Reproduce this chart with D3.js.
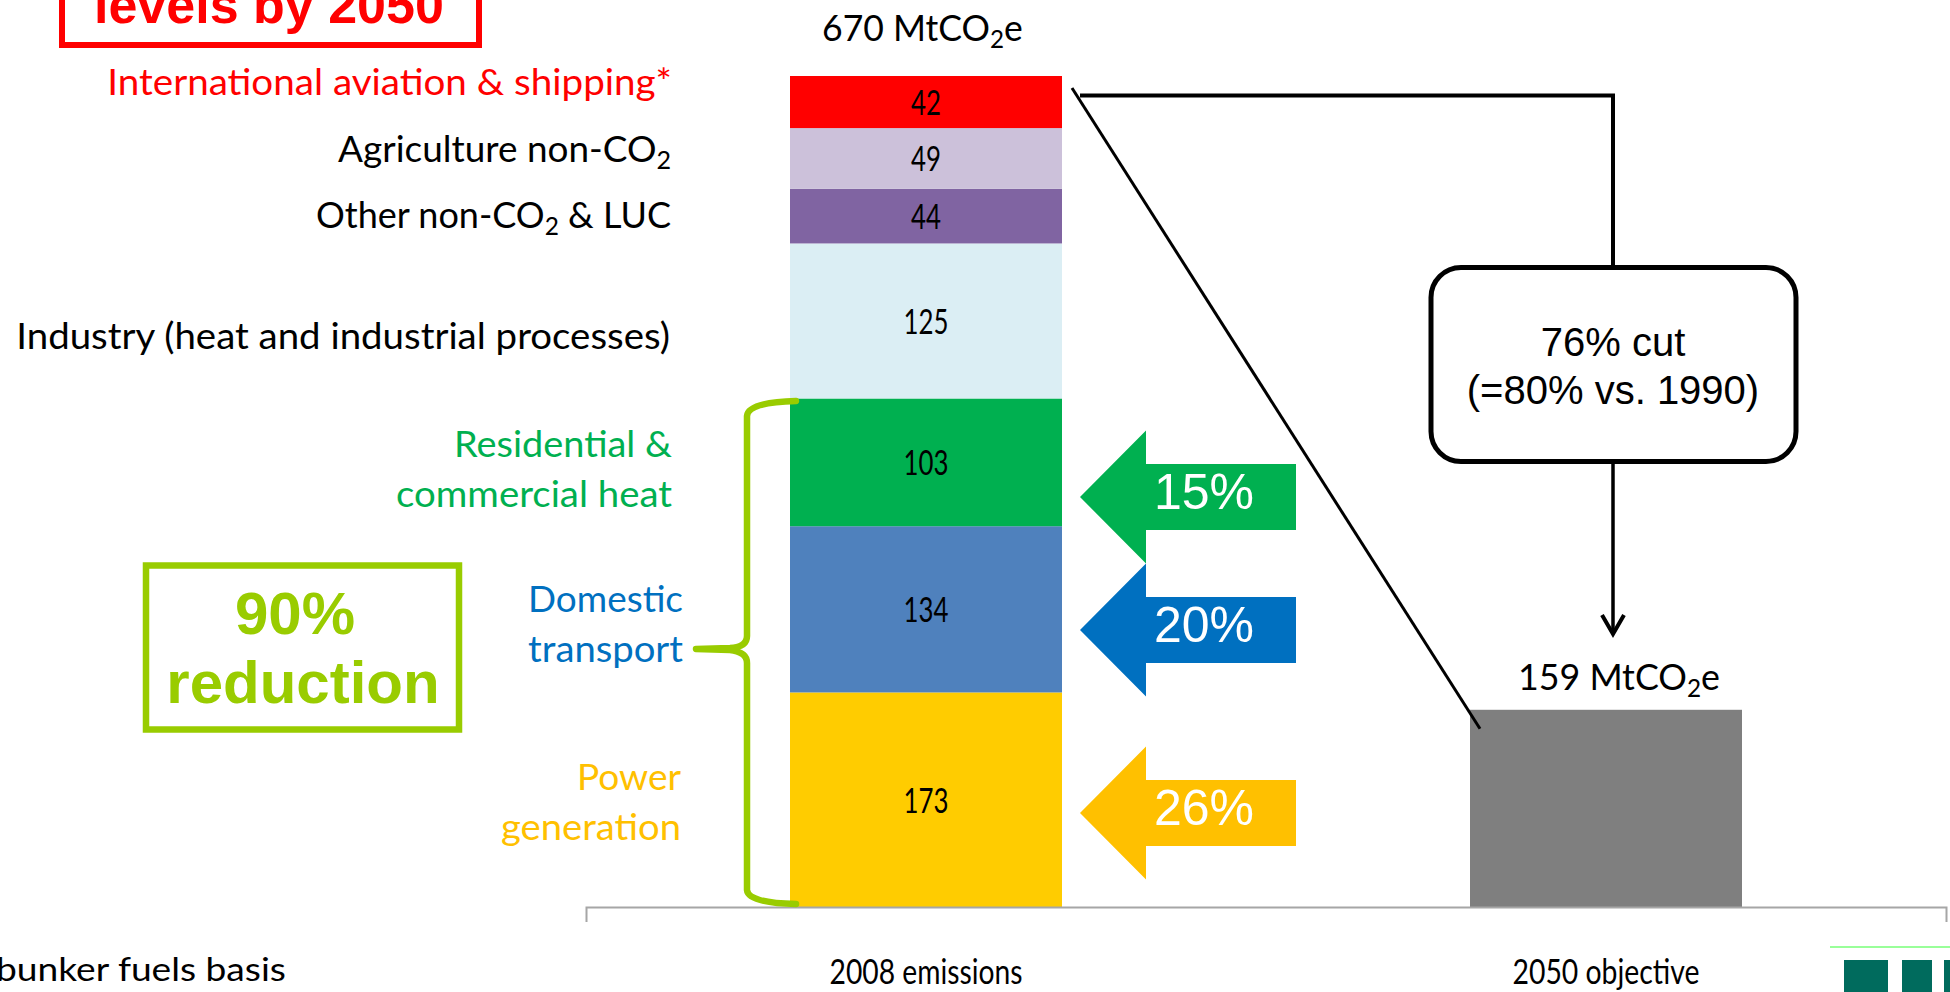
<!DOCTYPE html>
<html>
<head>
<meta charset="utf-8">
<script src="https://cdn.jsdelivr.net/npm/d3@7"></script>
<style>
  html, body { margin: 0; padding: 0; background: #ffffff; overflow: hidden; }
  svg { display: block; }
</style>
</head>
<body>
<svg id="chart" width="1950" height="992"></svg>
<script>
// ---- Data -------------------------------------------------------------
const categories = ["2008 emissions", "2050 objective"];

// 2008 emissions by sector, bottom to top (MtCO2e)
const sectors = [
  "Power generation",
  "Domestic transport",
  "Residential & commercial heat",
  "Industry (heat and industrial processes)",
  "Other non-CO2 & LUC",
  "Agriculture non-CO2",
  "International aviation & shipping*"
];
const emissions2008 = [173, 134, 103, 125, 44, 49, 42];
const objective2050 = 159;

// Share of the required reduction delivered by each of the three key sectors
const reductionSectors = ["Residential & commercial heat", "Domestic transport", "Power generation"];
const reductionShares = [15, 20, 26];

const cutVs2008 = 76;
const cutVs1990 = 80;
const keySectorCut = 90;

// ---- Styles -----------------------------------------------------------
const barColors = ["#ffcc00", "#4f81bd", "#00b050", "#dbeef4", "#8064a2", "#ccc1da", "#ff0000"];
const labelColors = ["#ffc000", "#0070c0", "#00b050", "#000000", "#000000", "#000000", "#ff0000"];
const arrowColors = ["#00b050", "#0070c0", "#ffc000"];
const lime = "#99cc00";
const sansHuman = "Lato, 'Open Sans', sans-serif";
const sansArial = "'Liberation Sans', Arial, sans-serif";

const svg = d3.select("#chart");

// Writes a string into a text node, turning "CO2" into CO + subscript 2
function writeRich(textSel, str, size) {
  const parts = str.split("CO2");
  let shifted = false;
  parts.forEach((p, i) => {
    if (p.length) {
      const t = textSel.append("tspan").text(p);
      if (shifted) { t.attr("dy", -size * 0.2); shifted = false; }
    }
    if (i < parts.length - 1) {
      textSel.append("tspan").text("CO");
      textSel.append("tspan").attr("dy", size * 0.2).attr("font-size", size * 0.68).text("2");
      shifted = true;
    }
  });
}

// Places a text so that it spans a given width, squeezing glyphs horizontally
function placeText(parent, str, o) {
  const t = parent.append("text")
    .attr("x", 0).attr("y", 0)
    .attr("text-anchor", o.anchor || "start")
    .attr("font-family", o.family || sansHuman)
    .attr("font-size", o.size)
    .attr("font-weight", o.weight || "normal")
    .attr("fill", o.fill || "#000");
  writeRich(t, str, o.size);
  let sx = 1;
  if (o.width) {
    const len = t.node().getComputedTextLength();
    if (len > 0) sx = o.width / len;
  }
  if (o.squeeze) sx = o.squeeze;
  t.attr("transform", `translate(${o.x},${o.y}) scale(${sx},1)`);
  return t;
}

// ---- Scales -----------------------------------------------------------
const total2008 = d3.sum(emissions2008);
const x = d3.scaleBand().domain(categories).range([586, 1946]).padding(0);
const y = d3.scaleLinear().domain([0, total2008]).range([907, 76]);
const barW = x.bandwidth() * 0.4;
const barX = c => x(c) + (x.bandwidth() - barW) / 2;

// ---- Stacked 2008 bar -------------------------------------------------
const stacked = [];
let acc = 0;
emissions2008.forEach((v, i) => {
  stacked.push({ sector: sectors[i], value: v, y0: acc, y1: acc + v, i });
  acc += v;
});

const bar1 = svg.append("g");
bar1.selectAll("rect").data(stacked).join("rect")
  .attr("x", barX(categories[0]))
  .attr("width", barW)
  .attr("y", d => y(d.y1))
  .attr("height", d => y(d.y0) - y(d.y1))
  .attr("fill", d => barColors[d.i]);

stacked.forEach(d => {
  placeText(bar1, String(d.value), {
    x: barX(categories[0]) + barW / 2,
    y: (y(d.y0) + y(d.y1)) / 2 + 13,
    size: 34, anchor: "middle", squeeze: 0.76
  });
});

// ---- 2050 bar ---------------------------------------------------------
svg.append("rect")
  .attr("x", barX(categories[1]))
  .attr("width", barW)
  .attr("y", y(objective2050))
  .attr("height", y(0) - y(objective2050))
  .attr("fill", "#7f7f7f");

// Totals above the bars
placeText(svg, `${total2008} MtCO2e`, { x: 822, y: 41, size: 36, width: 201 });
placeText(svg, `${objective2050} MtCO2e`, { x: 1518, y: 690, size: 36, width: 202 });

// ---- Category axis ----------------------------------------------------
const axis = svg.append("g")
  .attr("transform", `translate(0,${y(0)})`)
  .call(d3.axisBottom(x).tickSizeInner(0).tickSizeOuter(15).tickPadding(0));
axis.select(".domain").attr("stroke", "#a6a6a6").attr("stroke-width", 2);
axis.selectAll(".tick line").remove();
const tickWidths = [193, 187];
axis.selectAll(".tick text").each(function (d, i) {
  const t = d3.select(this);
  t.attr("font-family", sansHuman).attr("font-size", 35).attr("fill", "#000")
    .attr("y", 0).attr("dy", 0);
  const len = this.getComputedTextLength();
  t.attr("transform", `translate(0,77) scale(${tickWidths[i] / len},1)`);
});

// ---- Sector labels on the left ----------------------------------------
const sectorLabelLayout = [
  { lines: ["Power", "generation"], right: 681, base: 790 },
  { lines: ["Domestic", "transport"], right: 683, base: 612 },
  { lines: ["Residential &", "commercial heat"], right: 672, base: 457 },
  { lines: ["Industry (heat and industrial processes)"], right: 670, base: 349 },
  { lines: ["Other non-CO2 & LUC"], right: 671, base: 228 },
  { lines: ["Agriculture non-CO2"], right: 671, base: 162 },
  { lines: ["International aviation & shipping*"], right: 672, base: 95 }
];
const lineWidths = [[104, 180], [155, 155], [218, 276], [654], [355], [333], [565]];
sectorLabelLayout.forEach((L, i) => {
  L.lines.forEach((ln, j) => {
    placeText(svg, ln, {
      x: L.right, y: L.base + j * 50, size: 36, anchor: "end",
      width: lineWidths[i][j], fill: labelColors[i]
    });
  });
});

// ---- Reduction arrows -------------------------------------------------
const arrowTips = [497, 630, 813];
const tipX = 1080, headX = 1146, tailX = 1296, headH = 66.5, bodyH = 33;
reductionShares.forEach((s, i) => {
  const ty = arrowTips[i];
  svg.append("path")
    .attr("d", `M${tipX},${ty} L${headX},${ty - headH} L${headX},${ty - bodyH} L${tailX},${ty - bodyH}
                L${tailX},${ty + bodyH} L${headX},${ty + bodyH} L${headX},${ty + headH} Z`)
    .attr("fill", arrowColors[i]);
  svg.append("text")
    .attr("x", 1154).attr("y", ty + 12)
    .attr("font-family", sansArial).attr("font-size", 50)
    .attr("fill", "#ffffff")
    .text(`${s}%`);
});

// ---- Brace and "90% reduction" box ------------------------------------
svg.append("path")
  .attr("d", "M796,401 Q748,402 747,416 V636 Q747,647 730,648 L696,649 L730,650 Q747,652 747,663 V890 Q748,903 796,904")
  .attr("fill", "none").attr("stroke", lime).attr("stroke-width", 6.5)
  .attr("stroke-linecap", "round").attr("stroke-linejoin", "round");

svg.append("rect")
  .attr("x", 146).attr("y", 565.5).attr("width", 313).attr("height", 164)
  .attr("fill", "none").attr("stroke", lime).attr("stroke-width", 6.5);
svg.append("text")
  .attr("x", 295).attr("y", 634).attr("text-anchor", "middle")
  .attr("font-family", sansArial).attr("font-weight", "bold").attr("font-size", 60)
  .attr("fill", lime).text(`${keySectorCut}%`);
svg.append("text")
  .attr("x", 303).attr("y", 703).attr("text-anchor", "middle")
  .attr("font-family", sansArial).attr("font-weight", "bold").attr("font-size", 60)
  .attr("fill", lime).text("reduction");

// ---- Headline box (partly above the frame) ----------------------------
svg.append("rect")
  .attr("x", 62).attr("y", -80).attr("width", 417).attr("height", 125)
  .attr("fill", "none").attr("stroke", "#ff0000").attr("stroke-width", 6);
svg.append("text")
  .attr("x", 94).attr("y", 23)
  .attr("font-family", sansArial).attr("font-weight", "bold").attr("font-size", 52)
  .attr("fill", "#ff0000").text("levels by 2050");

// ---- Cut callout ------------------------------------------------------
const boxCx = 1613;
svg.append("line")
  .attr("x1", 1072).attr("y1", 88)
  .attr("x2", barX(categories[1]) + 10).attr("y2", y(objective2050) + 19)
  .attr("stroke", "#000").attr("stroke-width", 3);
svg.append("path")
  .attr("d", `M1080,95.5 H${boxCx} V265`)
  .attr("fill", "none").attr("stroke", "#000").attr("stroke-width", 4);
svg.append("rect")
  .attr("x", 1431).attr("y", 267.5).attr("width", 365).attr("height", 194)
  .attr("rx", 30).attr("ry", 30)
  .attr("fill", "#fff").attr("stroke", "#000").attr("stroke-width", 5);
svg.append("text")
  .attr("x", boxCx).attr("y", 356).attr("text-anchor", "middle")
  .attr("font-family", sansArial).attr("font-size", 40).attr("fill", "#000")
  .text(`${cutVs2008}% cut`);
svg.append("text")
  .attr("x", boxCx).attr("y", 404).attr("text-anchor", "middle")
  .attr("font-family", sansArial).attr("font-size", 40).attr("fill", "#000")
  .text(`(=${cutVs1990}% vs. 1990)`);
svg.append("line")
  .attr("x1", boxCx).attr("y1", 464).attr("x2", boxCx).attr("y2", 633)
  .attr("stroke", "#000").attr("stroke-width", 3.5);
svg.append("path")
  .attr("d", `M${boxCx - 11},615 L${boxCx},634 L${boxCx + 11},615`)
  .attr("fill", "none").attr("stroke", "#000").attr("stroke-width", 4)
  .attr("stroke-linejoin", "miter");

// ---- Footnote and corner mark -----------------------------------------
placeText(svg, "bunker fuels basis", { x: -4, y: 981, size: 33, width: 290 });

svg.append("line")
  .attr("x1", 1830).attr("y1", 947).attr("x2", 1950).attr("y2", 947)
  .attr("stroke", "#99ff99").attr("stroke-width", 2);
svg.append("g").selectAll("rect")
  .data([[1844, 44], [1902, 30], [1944, 10]])
  .join("rect")
  .attr("x", d => d[0]).attr("y", 960).attr("width", d => d[1]).attr("height", 40)
  .attr("fill", "#006b5d");
</script>
</body>
</html>
